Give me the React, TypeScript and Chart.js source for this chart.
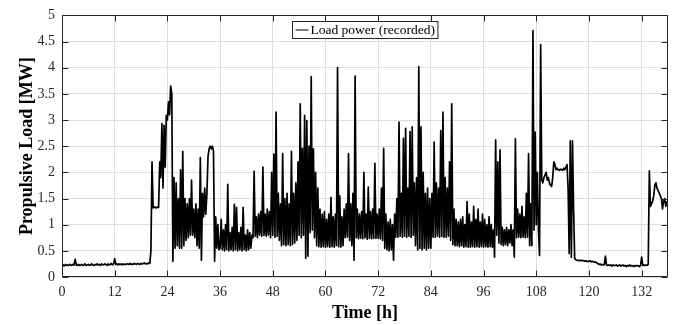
import React, { useEffect, useRef } from "react";
import { Chart, registerables } from "chart.js";

Chart.register(...registerables);

// ---------- data ----------
const STEP_H = 0.25; // sampling step of the recorded series [h]
const X_MAX = 138;
const X_TICKS = [0, 12, 24, 36, 48, 60, 72, 84, 96, 108, 120, 132];
const Y_TICKS = [0, 0.5, 1, 1.5, 2, 2.5, 3, 3.5, 4, 4.5, 5];
const X_LABEL = "Time [h]";
const Y_LABEL = "Propulsive Load [MW]";
const LEGEND_LABEL = "Load power (recorded)";

// Load power [MW], 0.25 h apart, split by 12-hour blocks
const LOAD_00_12 = [
  0.22, 0.23, 0.21, 0.24, 0.22, 0.23, 0.22, 0.24,
  0.23, 0.22, 0.24, 0.23, 0.34, 0.23, 0.22, 0.24,
  0.22, 0.23, 0.24, 0.22, 0.23, 0.25, 0.22, 0.23,
  0.24, 0.22, 0.23, 0.25, 0.23, 0.22, 0.24, 0.23,
  0.25, 0.23, 0.24, 0.22, 0.25, 0.24, 0.23, 0.25,
  0.24, 0.22, 0.25, 0.23, 0.24, 0.26, 0.23, 0.25,
];
const LOAD_12_24 = [
  0.35, 0.24, 0.25, 0.23, 0.25, 0.24, 0.25, 0.23,
  0.25, 0.24, 0.24, 0.25, 0.25, 0.24, 0.26, 0.24,
  0.25, 0.24, 0.26, 0.25, 0.24, 0.26, 0.25, 0.24,
  0.26, 0.25, 0.26, 0.27, 0.25, 0.26, 0.25, 0.27,
  0.26, 0.5, 2.2, 1.32, 1.34, 1.33, 1.32, 1.34,
  1.33, 2.2, 1.9, 2.93, 1.7, 2.9, 2.1, 3.09,
];
const LOAD_24_36 = [
  3.0, 3.35, 3.1, 3.65, 3.5, 0.3, 1.9, 0.55,
  1.8, 0.6, 1.5, 0.55, 2.05, 0.55, 2.4, 0.6,
  1.5, 0.7, 1.4, 0.75, 1.5, 0.8, 1.85, 0.8,
  1.3, 0.75, 1.4, 0.6, 1.3, 0.55, 2.28, 0.32,
  1.6, 1.15, 1.7, 1.2, 1.6, 2.3, 2.45, 2.5,
  2.45, 2.5, 2.4, 0.3, 1.15, 0.55, 1.0, 0.52,
];
const LOAD_36_48 = [
  0.55, 1.1, 0.52, 0.9, 0.5, 1.0, 0.52, 1.77,
  0.5, 0.85, 0.52, 0.95, 0.5, 1.39, 0.52, 1.33,
  0.5, 0.85, 0.52, 0.95, 0.5, 1.33, 0.52, 0.8,
  0.5, 0.9, 0.52, 0.85, 0.55, 0.8, 0.75, 2.02,
  0.78, 1.15, 0.75, 1.2, 0.8, 1.25, 0.78, 2.1,
  0.8, 1.2, 0.78, 1.3, 0.8, 1.25, 0.75, 2.0,
];
const LOAD_48_60 = [
  0.8, 2.35, 0.76, 3.15, 0.78, 1.6, 0.7, 1.4,
  0.6, 2.36, 0.62, 1.5, 0.6, 1.6, 0.62, 1.4,
  0.6, 2.4, 0.62, 1.6, 0.65, 1.8, 0.7, 2.2,
  0.8, 3.31, 0.75, 2.46, 0.8, 3.09, 0.36, 2.99,
  0.4, 2.5, 0.85, 3.83, 0.9, 2.45, 0.75, 2.0,
  0.6, 1.7, 0.58, 1.3, 0.57, 1.2, 0.58, 1.25,
];
const LOAD_60_72 = [
  0.57, 1.1, 0.58, 1.2, 0.57, 1.52, 0.58, 1.15,
  0.57, 1.2, 0.6, 4.0, 0.58, 1.55, 0.57, 1.15,
  0.6, 1.3, 0.75, 1.4, 0.76, 2.36, 0.7, 1.4,
  0.6, 1.6, 0.32, 3.84, 0.75, 1.3, 0.73, 1.2,
  0.74, 1.25, 0.73, 2.0, 0.75, 1.2, 0.72, 1.72,
  0.74, 1.25, 0.73, 1.3, 0.74, 2.17, 0.74, 1.2,
];
const LOAD_72_84 = [
  0.74, 1.3, 0.73, 1.7, 0.7, 2.46, 0.55, 1.2,
  0.52, 1.05, 0.5, 1.1, 0.52, 1.0, 0.32, 1.2,
  0.76, 1.5, 0.76, 2.96, 0.78, 1.6, 0.76, 2.65,
  0.78, 2.84, 0.76, 1.7, 0.78, 2.78, 0.76, 2.87,
  0.8, 1.8, 0.6, 1.9, 0.52, 4.02, 0.55, 2.87,
  0.52, 2.0, 0.55, 1.6, 0.52, 1.7, 0.55, 1.5,
];
const LOAD_84_96 = [
  0.55, 1.6, 0.76, 2.58, 0.76, 1.8, 0.78, 1.7,
  0.76, 2.8, 0.78, 3.15, 0.76, 1.9, 0.76, 1.7,
  0.78, 2.2, 0.7, 3.31, 0.62, 1.3, 0.6, 1.1,
  0.6, 1.05, 0.58, 1.1, 0.6, 1.15, 0.57, 1.0,
  0.58, 1.44, 0.57, 1.2, 0.57, 1.05, 0.58, 1.35,
  0.57, 1.1, 0.58, 1.3, 0.57, 1.05, 0.58, 1.2,
];
const LOAD_96_108 = [
  0.57, 1.1, 0.58, 1.0, 0.57, 1.15, 0.58, 1.0,
  0.57, 0.9, 0.38, 2.62, 0.8, 2.2, 0.65, 2.43,
  0.62, 0.95, 0.6, 0.9, 0.62, 0.95, 0.6, 0.9,
  0.65, 1.0, 0.6, 0.9, 0.38, 2.64, 0.75, 1.3,
  0.76, 1.2, 0.75, 1.35, 0.76, 1.15, 0.75, 1.6,
  0.76, 2.36, 0.6, 1.4, 0.6, 4.71, 0.9, 2.77,
];
const LOAD_108_120 = [
  1.0, 2.0, 0.9, 0.41, 4.44, 1.85, 1.8, 1.9,
  1.95, 2.0, 1.85, 1.9, 1.8, 1.75, 1.73, 1.9,
  2.2, 2.15, 2.05, 2.08, 2.05, 2.04, 2.06, 2.05,
  2.04, 2.08, 2.05, 2.1, 2.15, 1.7, 0.45, 2.6,
  0.38, 2.6, 1.3, 0.35, 0.33, 0.32, 0.32, 0.31,
  0.32, 0.31, 0.32, 0.31, 0.3, 0.31, 0.3, 0.3,
];
const LOAD_120_132 = [
  0.3, 0.31, 0.29, 0.3, 0.29, 0.28, 0.29, 0.27,
  0.26, 0.24, 0.25, 0.23, 0.24, 0.23, 0.24, 0.4,
  0.23, 0.22, 0.23, 0.22, 0.23, 0.21, 0.23, 0.22,
  0.22, 0.23, 0.21, 0.22, 0.23, 0.21, 0.22, 0.23,
  0.21, 0.22, 0.2, 0.22, 0.21, 0.23, 0.21, 0.22,
  0.21, 0.2, 0.22, 0.21, 0.22, 0.21, 0.2, 0.22,
];
const LOAD_132_138 = [
  0.38, 0.22, 0.23, 0.22, 0.23, 0.22, 0.24, 2.03,
  1.35, 1.4, 1.45, 1.55, 1.75, 1.8, 1.7, 1.65,
  1.6, 1.55, 1.5, 1.3, 1.45, 1.5, 1.35, 1.45,
];

const LOAD_BLOCKS = [
  LOAD_00_12, LOAD_12_24, LOAD_24_36, LOAD_36_48, LOAD_48_60, LOAD_60_72,
  LOAD_72_84, LOAD_84_96, LOAD_96_108, LOAD_108_120, LOAD_120_132, LOAD_132_138,
];

// ---------- style ----------
const FONT = "'Liberation Serif', 'Times New Roman', serif";
const AXIS_COLOR = "#262626";
const GRID_COLOR = "#dedede";
const W = 686;
const H = 325;

const decorPlugin = {
  id: "decor",
  afterDraw(chart: any) {
    const { ctx, chartArea } = chart;
    const { left, right, top, bottom } = chartArea;
    const xs = chart.scales.x;
    const ys = chart.scales.y;
    ctx.save();
    ctx.strokeStyle = AXIS_COLOR;
    ctx.lineWidth = 1;
    const L = Math.round(left) + 0.5;
    const R = Math.round(right) - 0.5;
    const T = Math.round(top) + 0.5;
    const B = Math.round(bottom) - 0.5;
    ctx.beginPath();
    ctx.rect(L, T, R - L, B - T);
    ctx.stroke();
    const tl = 6;
    ctx.beginPath();
    X_TICKS.forEach((v) => {
      const px = Math.round(xs.getPixelForValue(v)) + 0.5;
      ctx.moveTo(px, B);
      ctx.lineTo(px, B - tl);
      ctx.moveTo(px, T);
      ctx.lineTo(px, T + tl);
    });
    Y_TICKS.forEach((v) => {
      const py = Math.round(ys.getPixelForValue(v)) + 0.5;
      ctx.moveTo(L, py);
      ctx.lineTo(L + tl, py);
      ctx.moveTo(R, py);
      ctx.lineTo(R - tl, py);
    });
    ctx.stroke();

    // axis titles
    ctx.fillStyle = "#000";
    ctx.font = `bold 18px ${FONT}`;
    ctx.textAlign = "center";
    ctx.textBaseline = "middle";
    ctx.fillText(X_LABEL, (left + right) / 2, 313);
    ctx.save();
    ctx.translate(27, (top + bottom) / 2);
    ctx.rotate(-Math.PI / 2);
    ctx.fillText(Y_LABEL, 0, 0);
    ctx.restore();

    // legend box inside the plot
    ctx.font = `13.5px ${FONT}`;
    const tw = ctx.measureText(LEGEND_LABEL).width;
    const lineLen = 13;
    const bw = 3 + lineLen + 2 + tw + 3;
    const bh = 17;
    const bx = Math.round((left + right) / 2 - bw / 2) + 0.5;
    const by = Math.round(top) + 6.5;
    ctx.fillStyle = "#fff";
    ctx.fillRect(bx, by, bw, bh);
    ctx.strokeStyle = AXIS_COLOR;
    ctx.strokeRect(bx, by, bw, bh);
    ctx.strokeStyle = "#000";
    ctx.beginPath();
    ctx.moveTo(bx + 3, by + bh / 2);
    ctx.lineTo(bx + 3 + lineLen, by + bh / 2);
    ctx.stroke();
    ctx.fillStyle = "#000";
    ctx.textAlign = "left";
    ctx.textBaseline = "middle";
    ctx.fillText(LEGEND_LABEL, bx + 3 + lineLen + 2, by + bh / 2 + 0.5);
    ctx.restore();
  },
};

export default function App() {
  const ref = useRef<HTMLCanvasElement | null>(null);

  useEffect(() => {
    if (!ref.current) return;
    const points: { x: number; y: number }[] = [];
    let i = 0;
    LOAD_BLOCKS.forEach((block) => {
      block.forEach((v) => {
        points.push({ x: i * STEP_H, y: v });
        i++;
      });
    });

    const chart = new Chart(ref.current, {
      type: "line",
      data: {
        datasets: [
          {
            label: LEGEND_LABEL,
            data: points,
            borderColor: "#000",
            borderWidth: 1.7,
            borderJoinStyle: "round",
            pointRadius: 0,
            tension: 0,
            fill: false,
          },
        ],
      },
      options: {
        responsive: false,
        animation: false,
        devicePixelRatio: 1,
        layout: { padding: { top: 12, right: 18, left: 0, bottom: 0 } },
        plugins: { legend: { display: false }, tooltip: { enabled: false } },
        scales: {
          x: {
            type: "linear",
            min: 0,
            max: X_MAX,
            afterBuildTicks: (scale: any) => {
              scale.ticks = X_TICKS.map((v) => ({ value: v }));
            },
            afterFit: (scale: any) => {
              scale.height = 48;
            },
            ticks: {
              autoSkip: false,
              maxRotation: 0,
              padding: 7,
              color: AXIS_COLOR,
              font: { family: FONT, size: 14 },
              callback: (v: any) => String(v),
            },
            grid: { color: GRID_COLOR, drawTicks: false, lineWidth: 1 },
            border: { display: false },
          },
          y: {
            type: "linear",
            min: 0,
            max: 5,
            afterBuildTicks: (scale: any) => {
              scale.ticks = Y_TICKS.map((v) => ({ value: v }));
            },
            afterFit: (scale: any) => {
              scale.width = 62;
            },
            ticks: {
              autoSkip: false,
              padding: 7,
              color: AXIS_COLOR,
              font: { family: FONT, size: 14 },
              callback: (v: any) => String(v),
            },
            grid: { color: GRID_COLOR, drawTicks: false, lineWidth: 1 },
            border: { display: false },
          },
        },
      },
      plugins: [decorPlugin],
    });
    return () => chart.destroy();
  }, []);

  return (
    <div
      style={{
        position: "fixed",
        left: 0,
        top: 0,
        width: W,
        height: H,
        background: "#fff",
      }}
    >
      <canvas ref={ref} width={W} height={H} style={{ width: W, height: H }} />
    </div>
  );
}
